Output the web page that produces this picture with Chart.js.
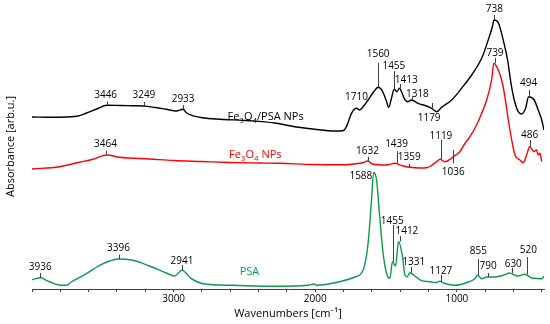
<!DOCTYPE html>
<html><head><meta charset="utf-8">
<script src="https://cdn.jsdelivr.net/npm/chart.js@4.4.1/dist/chart.umd.min.js"></script>
<style>html,body{margin:0;padding:0;background:#fff}#wrap{width:550px;height:324px}</style>
</head><body><div id="wrap"><canvas id="c" width="550" height="324"></canvas></div>
<script>
// ---- data (wavenumber in cm-1, absorbance in arb. units) ----
const wnFePSA = [4000,3855,3686,3615,3544,3471,3380,3300,3210,3130,3052,2981,2933,2910,2816,2698,2463,2286,2145,2004,1862,1804,1780,1744,1710,1686,1662,1627,1587,1556,1528,1502,1481,1462,1443,1424,1405,1391,1372,1348,1320,1274,1214,1179,1143,1108,1037,967,896,825,779,750,738,708,673,642,618,595,567,543,515,494,454,426,401,385];
const absFePSA = [1.72,1.717,1.727,1.76,1.80,1.837,1.835,1.833,1.83,1.815,1.797,1.78,1.797,1.763,1.717,1.70,1.683,1.66,1.623,1.597,1.58,1.583,1.623,1.757,1.807,1.79,1.823,1.89,1.973,2.017,1.983,1.897,1.817,1.907,1.997,1.973,2.007,1.973,1.907,1.873,1.89,1.857,1.83,1.807,1.773,1.817,1.89,2.007,2.14,2.307,2.49,2.62,2.69,2.663,2.49,2.29,2.057,1.89,1.773,1.75,1.807,1.923,1.89,1.79,1.69,1.59];

const wnFe = [4000,3806,3664,3570,3470,3382,3170,3000,2800,2600,2400,2250,2016,1780,1686,1660,1632,1592,1497,1439,1380,1332,1261,1214,1191,1143,1119,1085,1049,1026,979,943,908,861,825,790,755,739,708,684,661,637,613,590,555,532,508,486,456,437,426,413,401];
const absFe = [1.20,1.223,1.267,1.297,1.34,1.317,1.30,1.285,1.275,1.265,1.26,1.257,1.245,1.243,1.257,1.265,1.28,1.247,1.24,1.257,1.23,1.217,1.21,1.213,1.225,1.273,1.297,1.273,1.297,1.323,1.373,1.457,1.523,1.64,1.757,1.89,2.09,2.257,2.19,2.09,1.923,1.69,1.49,1.34,1.29,1.263,1.34,1.423,1.373,1.39,1.34,1.357,1.273];

const wnPSA = [4000,3936,3900,3818,3758,3723,3617,3523,3452,3396,3288,3170,3052,2993,2941,2875,2793,2581,2286,2051,2010,1990,1815,1721,1662,1627,1603,1588,1567,1549,1521,1493,1473,1455,1433,1412,1384,1367,1351,1331,1297,1250,1191,1150,1120,1095,1014,920,873,855,825,790,731,661,630,567,520,472,401,385];
const absPSA = [0.093,0.113,0.087,0.043,0.037,0.07,0.153,0.237,0.28,0.30,0.287,0.23,0.16,0.13,0.187,0.103,0.053,0.037,0.027,0.037,0.05,0.037,0.077,0.12,0.19,0.457,0.89,1.165,1.09,0.79,0.357,0.14,0.107,0.273,0.23,0.475,0.323,0.14,0.123,0.163,0.13,0.083,0.073,0.065,0.078,0.06,0.037,0.07,0.103,0.137,0.103,0.12,0.12,0.143,0.16,0.13,0.147,0.11,0.103,0.127];

const xTickLabels = [1000, 2000, 3000];
const xMinorStep = 200;

// peak labels: text, wavenumber of marker, marker from/to (absorbance), text position
const peaksFePSA = [
  {t:'3446', x:3471, y0:1.837, y1:1.875, tx:3480, ty:1.943},
  {t:'3249', x:3210, y0:1.83, y1:1.87, ty:1.94},
  {t:'2933', x:2933, y0:1.797, y1:1.84, ty:1.90},
  {t:'1710', x:1709, ty:1.923},
  {t:'1560', x:1556, y0:2.017, y1:2.26, ty:2.345},
  {t:'1455', x:1445, y0:1.997, y1:2.18, ty:2.233},
  {t:'1413', x:1405, y0:2.007, y1:2.05, tx:1358, ty:2.09},
  {t:'1318', x:1320, y0:1.89, y1:1.92, tx:1279, ty:1.945},
  {t:'1179', x:1179, y0:1.86, y1:1.79, tx:1196, ty:1.707},
  {t:'738', x:735, y0:2.69, y1:2.74, ty:2.80},
  {t:'494', x:494, y0:1.923, y1:1.99, ty:2.057}
];
const peaksFe = [
  {t:'3464', x:3481, y0:1.34, y1:1.383, ty:1.45},
  {t:'1632', x:1631, y0:1.28, y1:1.323, ty:1.383},
  {t:'1439', x:1426, y0:1.257, y1:1.38, ty:1.45},
  {t:'1359', x:1337, y0:1.217, y1:1.25, ty:1.317},
  {t:'1119', x:1113, y0:1.297, y1:1.49, ty:1.53},
  {t:'1036', x:1026, y0:1.39, y1:1.257, ty:1.173},
  {t:'739', x:731, y0:2.257, y1:2.31, ty:2.363},
  {t:'486', x:486, y0:1.423, y1:1.49, ty:1.54}
];
const peaksPSA = [
  {t:'3936', x:3942, y0:0.113, y1:0.16, ty:0.217},
  {t:'3396', x:3389, y0:0.30, y1:0.343, ty:0.413},
  {t:'2941', x:2941, y0:0.187, y1:0.24, ty:0.277},
  {t:'1588', x:1678, ty:1.13},
  {t:'1455', x:1450, y0:0.273, y1:0.64, tx:1457, ty:0.68},
  {t:'1412', x:1403, y0:0.475, y1:0.53, tx:1353, ty:0.577},
  {t:'1331', x:1325, y0:0.163, y1:0.22, tx:1305, ty:0.27},
  {t:'1127', x:1113, y0:0.07, y1:0.14, ty:0.177},
  {t:'855', x:849, y0:0.137, y1:0.30, ty:0.377},
  {t:'790', x:781, y0:0.12, y1:0.16, tx:779, ty:0.23},
  {t:'630', x:613, y0:0.16, y1:0.21, tx:602, ty:0.247},
  {t:'520', x:507, y0:0.147, y1:0.32, tx:496, ty:0.387}
];

// series names (parts: [text, isSubscript])
const seriesLabels = [
  {parts:[['Fe',0],['3',1],['O',0],['4',1],['/PSA NPs',0]], x:2620, y:1.693, color:'#000000'},
  {parts:[['Fe',0],['3',1],['O',0],['4',1],[' NPs',0]], x:2609, y:1.313, color:'#ff0000'},
  {parts:[['PSA',0]], x:2534, y:0.137, color:'#0c9a48'}
];

const COLORS = {fePSA:'#000000', fe:'#ff0000', psa:'#0c9a48'};
const FONT = 'Open Sans';

function pts(xs, ys){ return xs.map((x,i)=>({x:x, y:ys[i]})); }

const annotPlugin = {
  id:'annot',
  afterDatasetsDraw(chart){
    const ctx = chart.ctx, xs = chart.scales.x, ys = chart.scales.y;
    ctx.save();
    const groups = [peaksFePSA, peaksFe, peaksPSA];
    ctx.font = '10px "' + FONT + '"';
    ctx.textAlign = 'center';
    ctx.textBaseline = 'middle';
    groups.forEach(g => g.forEach(p => {
      if (p.y0 !== undefined) {
        const px = Math.round(xs.getPixelForValue(p.x)) + 0.5;
        ctx.strokeStyle = '#404040';
        ctx.lineWidth = 1;
        ctx.beginPath();
        ctx.moveTo(px, ys.getPixelForValue(p.y0));
        ctx.lineTo(px, ys.getPixelForValue(p.y1));
        ctx.stroke();
      }
      ctx.fillStyle = '#000';
      ctx.fillText(p.t, xs.getPixelForValue(p.tx !== undefined ? p.tx : p.x), ys.getPixelForValue(p.ty));
    }));
    ctx.textAlign = 'left';
    ctx.textBaseline = 'alphabetic';
    seriesLabels.forEach(s => {
      let x = xs.getPixelForValue(s.x);
      const y = ys.getPixelForValue(s.y);
      ctx.fillStyle = s.color;
      s.parts.forEach(([txt, sub]) => {
        ctx.font = (sub ? '8px' : '11px') + ' "' + FONT + '"';
        ctx.fillText(txt, x, y + (sub ? 3 : 0));
        x += ctx.measureText(txt).width;
      });
    });
    ctx.restore();
  }
};

new Chart(document.getElementById('c'), {
  type:'line',
  data:{datasets:[
    {label:'Fe3O4/PSA NPs', data:pts(wnFePSA, absFePSA), borderColor:COLORS.fePSA},
    {label:'Fe3O4 NPs', data:pts(wnFe, absFe), borderColor:COLORS.fe},
    {label:'PSA', data:pts(wnPSA, absPSA), borderColor:COLORS.psa}
  ].map(d => Object.assign(d, {borderWidth:1.4, pointRadius:0, fill:false, cubicInterpolationMode:'monotone'}))},
  options:{
    responsive:false, animation:false, devicePixelRatio:1,
    layout:{padding:{top:4, right:6, left:0, bottom:0}},
    plugins:{legend:{display:false}, tooltip:{enabled:false}},
    scales:{
      x:{
        type:'linear', reverse:true, min:385, max:4000,
        afterBuildTicks(s){
          const out = [];
          for (let v = Math.ceil(s.min / xMinorStep) * xMinorStep; v <= s.max; v += xMinorStep) out.push({value:v});
          s.ticks = out.reverse();
        },
        afterFit(s){ s.height = 35; },
        ticks:{autoSkip:false, maxRotation:0, padding:1, color:'#000',
          font:{family:FONT, size:10},
          callback:(v)=> xTickLabels.includes(v) ? String(v) : ''},
        grid:{display:true, drawOnChartArea:false, drawTicks:true, tickLength:3, color:'#404040'},
        border:{display:true, color:'#404040', width:1},
        title:{display:true, text:'Wavenumbers [cm\u207B\u00B9]', color:'#000', font:{family:FONT, size:11}, padding:{top:0, bottom:4}}
      },
      y:{
        min:0, max:2.85,
        afterFit(s){ s.width = 32; },
        ticks:{display:false},
        grid:{display:false},
        border:{display:false},
        title:{display:true, text:'Absorbance [arb.u.]', color:'#000', font:{family:FONT, size:11}, padding:{top:4, bottom:0}}
      }
    }
  },
  plugins:[annotPlugin]
});
</script></body></html>
